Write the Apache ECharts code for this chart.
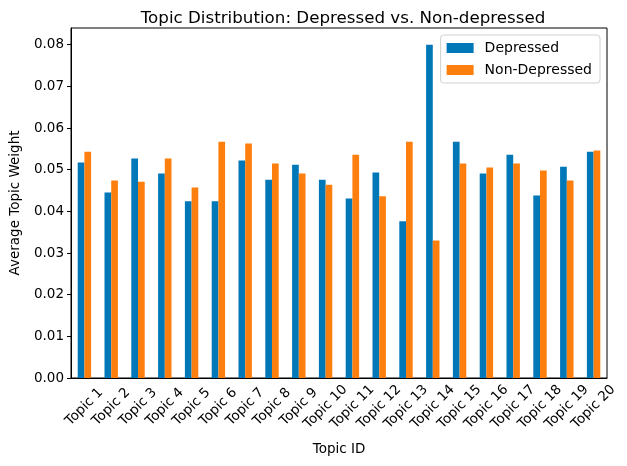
<!DOCTYPE html>
<html>
<head>
<meta charset="utf-8">
<script src="https://cdn.jsdelivr.net/npm/echarts@6/dist/echarts.min.js"></script>
<style>
  html, body { margin: 0; padding: 0; background: #fff; }
  #chart { width: 627px; height: 466px; }
</style>
</head>
<body>
<div id="chart"></div>
<script>
var topics = ['Topic 1', 'Topic 2', 'Topic 3', 'Topic 4', 'Topic 5', 'Topic 6', 'Topic 7',
    'Topic 8', 'Topic 9', 'Topic 10', 'Topic 11', 'Topic 12', 'Topic 13', 'Topic 14',
    'Topic 15', 'Topic 16', 'Topic 17', 'Topic 18', 'Topic 19', 'Topic 20'];
var depressed = [0.0517, 0.0445, 0.0527, 0.0491, 0.0424, 0.0424, 0.0522, 0.0476, 0.0512, 0.0476,
    0.0431, 0.0493, 0.0376, 0.0800, 0.0567, 0.0491, 0.0536, 0.0438, 0.0507, 0.0543];
var nonDepressed = [0.0543, 0.0474, 0.0471, 0.0527, 0.0457, 0.0567, 0.0563, 0.0515, 0.0491, 0.0464,
    0.0536, 0.0436, 0.0567, 0.0330, 0.0515, 0.0505, 0.0515, 0.0498, 0.0474, 0.0546];
var yTicks = [0, 0.01, 0.02, 0.03, 0.04, 0.05, 0.06, 0.07, 0.08];

(function () {
    var myChart = echarts.init(document.getElementById('chart'));
    var font = 'DejaVu Sans';

    var option = {
        animation: false,
        textStyle: { fontFamily: font },
        title: {
            text: 'Topic Distribution: Depressed vs. Non-depressed',
            left: 338,
            textAlign: 'center',
            top: 5,
            textStyle: { fontFamily: font, fontSize: 16.7, fontWeight: 'normal', color: '#000' }
        },
        legend: {
            orient: 'vertical',
            right: 27,
            top: 35,
            padding: [6, 8, 6, 6],
            itemGap: 8,
            itemWidth: 27,
            itemHeight: 10,
            borderColor: '#d0d0d0',
            borderWidth: 1,
            borderRadius: 3,
            backgroundColor: 'rgba(255,255,255,0.8)',
            icon: 'rect',
            textStyle: { fontFamily: font, fontSize: 14, color: '#000', padding: [0, 0, 0, 6] },
            data: ['Depressed', 'Non-Depressed']
        },
        grid: {
            left: 70, right: 20, top: 28, bottom: 88,
            show: true, borderColor: '#000', borderWidth: 1
        },
        xAxis: {
            type: 'category',
            data: topics,
            name: 'Topic ID',
            nameLocation: 'middle',
            nameGap: 64,
            nameTextStyle: { fontFamily: font, fontSize: 13.5, color: '#000' },
            axisLine: { lineStyle: { color: '#000' } },
            axisTick: { alignWithLabel: true, length: 4, lineStyle: { color: '#000' } },
            axisLabel: {
                rotate: 45,
                interval: 0,
                align: 'center',
                verticalAlign: 'middle',
                margin: 29,
                fontFamily: font,
                fontSize: 13.5,
                color: '#000'
            }
        },
        yAxis: {
            type: 'value',
            min: 0,
            max: 0.084,
            name: 'Average Topic Weight',
            nameLocation: 'middle',
            nameGap: 49,
            nameTextStyle: { fontFamily: font, fontSize: 13.5, color: '#000' },
            splitLine: { show: false },
            axisLine: { show: true, lineStyle: { color: '#000' } },
            axisTick: { show: true, length: 4, customValues: yTicks, lineStyle: { color: '#000' } },
            axisLabel: {
                customValues: yTicks,
                margin: 7,
                fontFamily: font,
                fontSize: 13.5,
                color: '#000',
                formatter: function (v) { return v.toFixed(2); }
            }
        },
        series: [
            {
                name: 'Depressed',
                type: 'bar',
                data: depressed,
                barWidth: '25%',
                barGap: '0%',
                itemStyle: { color: '#0077b6' }
            },
            {
                name: 'Non-Depressed',
                type: 'bar',
                data: nonDepressed,
                barWidth: '25%',
                barGap: '0%',
                itemStyle: { color: '#ff7f0e' }
            }
        ]
    };
    myChart.setOption(option);
})();
</script>
</body>
</html>
